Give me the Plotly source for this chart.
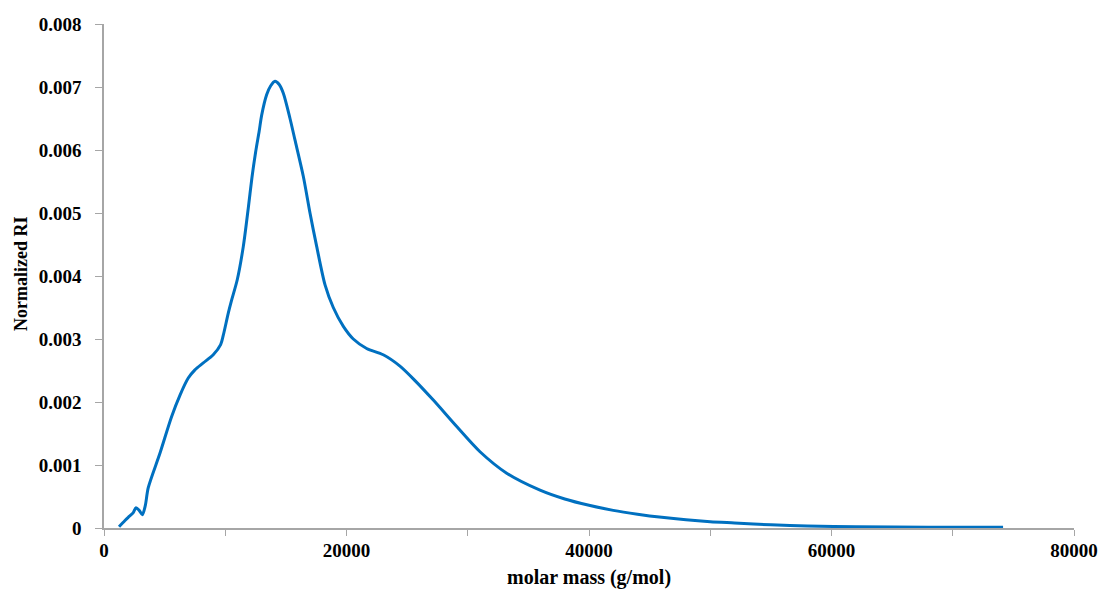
import plotly.graph_objects as go

# Molar mass distribution (RI detector, normalized)
molar_mass = [1240, 1730, 2000, 2400, 2640, 2900, 3160, 3400, 3650, 4620, 5580, 6270,
              6950, 7500, 8190, 9010, 9620, 9840, 10250, 10530, 10990, 11490, 11900,
              12200, 12500, 12800, 13000, 13420, 13750, 14100, 14450, 14790, 15340,
              15750, 16440, 16990, 17540, 18230, 18910, 19740, 20560, 21660, 23030,
              24410, 25650, 27160, 29090, 31010, 33210, 35960, 38000, 40000, 42000,
              44000, 46000, 48000, 50000, 52000, 55000, 58000, 62000, 68000, 74150]
normalized_ri = [0.00002, 0.00012, 0.00017, 0.00024, 0.00032, 0.00028, 0.00021, 0.00035,
                 0.00064, 0.00119, 0.00177, 0.00211, 0.00238, 0.00251, 0.00262, 0.00275,
                 0.00291, 0.00306, 0.00341, 0.00362, 0.00394, 0.00447, 0.00508, 0.00556,
                 0.00596, 0.00630, 0.00655, 0.00688, 0.00702, 0.00709, 0.00704, 0.00690,
                 0.00650, 0.00616, 0.00558, 0.00500, 0.00447, 0.00386, 0.00350, 0.00320,
                 0.00300, 0.00285, 0.00275, 0.00257, 0.00234, 0.00203, 0.00161, 0.00121,
                 0.00087, 0.00060, 0.00046, 0.00036, 0.00028, 0.00022, 0.00017, 0.00013,
                 0.00010, 0.00008, 0.00005, 0.00003, 0.00002, 0.00001, 0.00001]

x_ticks = [0, 10000, 20000, 30000, 40000, 50000, 60000, 70000, 80000]
x_labels = ["0", "", "20000", "", "40000", "", "60000", "", "80000"]
y_ticks = [0, 0.001, 0.002, 0.003, 0.004, 0.005, 0.006, 0.007, 0.008]
y_labels = ["0", "0.001", "0.002", "0.003", "0.004", "0.005", "0.006", "0.007", "0.008"]

font_family = "Liberation Serif"
axis_color = "#A6A6A6"

fig = go.Figure()
fig.add_trace(go.Scatter(
    x=molar_mass, y=normalized_ri, mode="lines",
    line=dict(color="#0070C0", width=3, shape="spline", smoothing=0.8),
    showlegend=False, hoverinfo="x+y",
))

fig.update_layout(
    width=1103, height=589,
    margin=dict(l=104, r=29, t=24, b=61),
    plot_bgcolor="white", paper_bgcolor="white",
    font=dict(family=font_family, size=19, color="black"),
)
fig.update_xaxes(
    range=[0, 80000], tickvals=x_ticks, ticktext=x_labels, automargin=False,
    showgrid=False, zeroline=False, showline=True, linecolor=axis_color, linewidth=1.5,
    ticks="outside", ticklen=6, tickcolor=axis_color, ticklabelstandoff=-2,
    tickfont=dict(family=font_family, size=19, color="black", weight="bold"),
)
fig.update_yaxes(
    range=[0, 0.008], tickvals=y_ticks, ticktext=y_labels, automargin=False,
    showgrid=False, zeroline=False, showline=True, linecolor=axis_color, linewidth=1.5,
    ticks="outside", ticklen=7, tickcolor=axis_color, ticklabelstandoff=10,
    tickfont=dict(family=font_family, size=19, color="black", weight="bold"),
)

# Axis titles placed in the margins
fig.add_annotation(
    text="<b>molar mass (g/mol)</b>", xref="paper", yref="paper",
    x=0.5, y=-0.099, xanchor="center", yanchor="middle", showarrow=False,
    font=dict(family=font_family, size=20, color="black"),
)
fig.add_annotation(
    text="<b>Normalized RI</b>", xref="paper", yref="paper", textangle=-90,
    x=-0.0856, y=0.504, xanchor="center", yanchor="middle", showarrow=False,
    font=dict(family=font_family, size=18, color="black"),
)

fig.write_html("out.html")
